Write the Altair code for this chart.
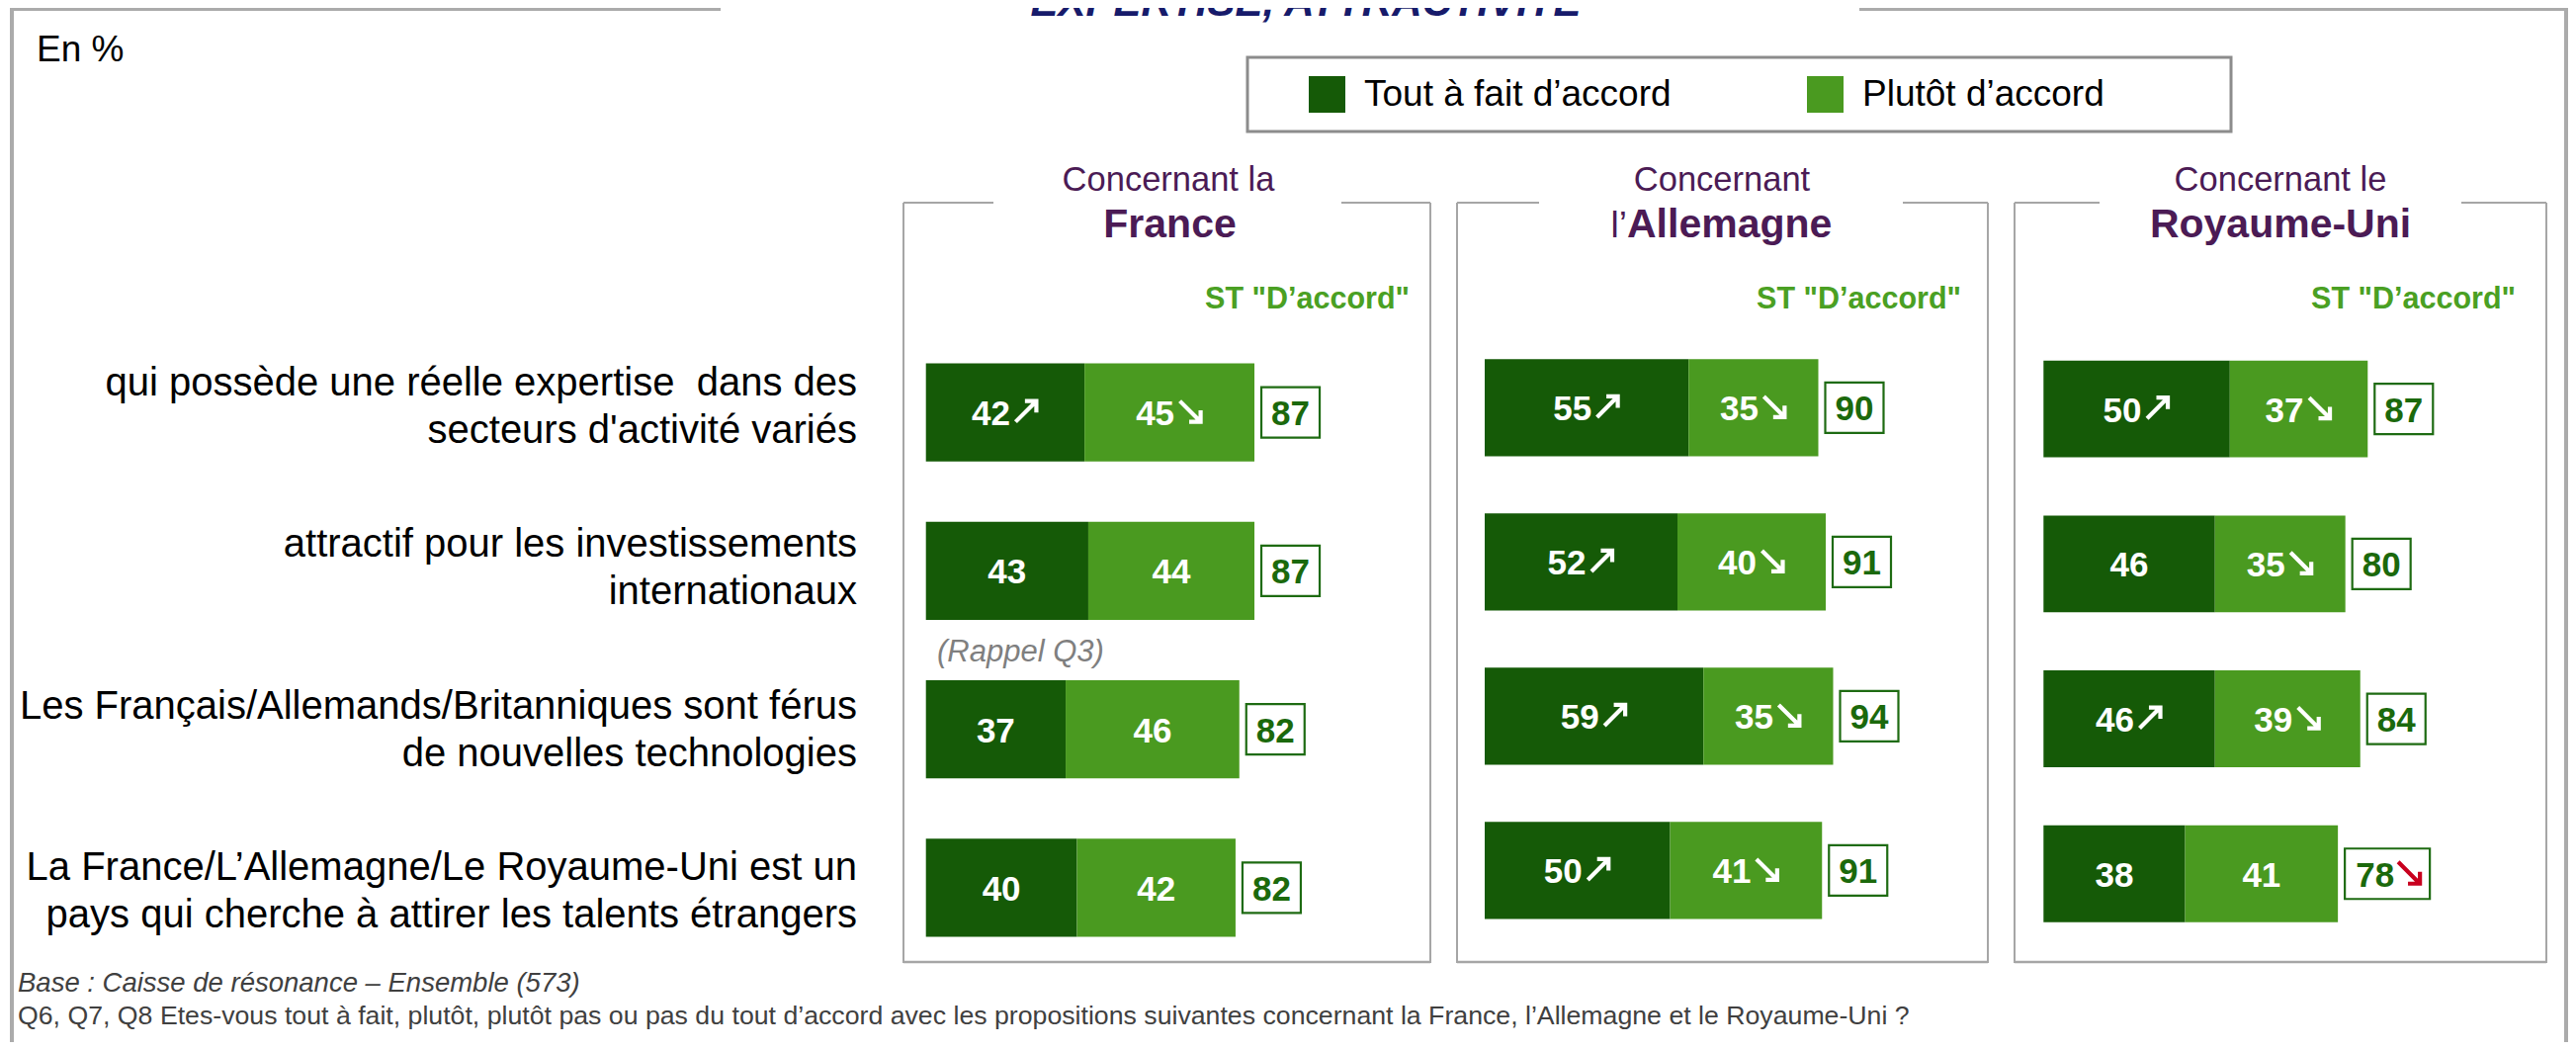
import altair as alt
import pandas as pd

# ---------------- data ----------------
statements = [
    "qui possède une réelle expertise\u00a0 dans des\nsecteurs d'activité variés",
    "attractif pour les investissements\ninternationaux",
    "Les Français/Allemands/Britanniques sont férus\nde nouvelles technologies",
    "La France/L’Allemagne/Le Royaume-Uni est un\npays qui cherche à attirer les talents étrangers",
]
countries = ["France", "Allemagne", "Royaume-Uni"]
series_names = ["Tout à fait d’accord", "Plutôt d’accord"]

tout_a_fait = {"France": [42, 43, 37, 40], "Allemagne": [55, 52, 59, 50], "Royaume-Uni": [50, 46, 46, 38]}
plutot = {"France": [45, 44, 46, 42], "Allemagne": [35, 40, 35, 41], "Royaume-Uni": [37, 35, 39, 41]}
st_accord = {"France": [87, 87, 82, 82], "Allemagne": [90, 91, 94, 91], "Royaume-Uni": [87, 80, 84, 78]}
trend_tout = {"France": ["up", "", "", ""], "Allemagne": ["up", "up", "up", "up"], "Royaume-Uni": ["up", "", "up", ""]}
trend_plutot = {"France": ["down", "", "", ""], "Allemagne": ["down", "down", "down", "down"],
                "Royaume-Uni": ["down", "down", "down", ""]}
trend_st = {"France": ["", "", "", ""], "Allemagne": ["", "", "", ""], "Royaume-Uni": ["", "", "", "down"]}

header_top = ["Concernant la", "Concernant", "Concernant le"]
header_prefix = ["", "l’", ""]
header_bold = ["France", "Allemagne", "Royaume-Uni"]
st_label = 'ST "D’accord"'
title_text = "EXPERTISE, ATTRACTIVITE"
unit_text = "En %"
rappel_text = "(Rappel Q3)"
base_text = "Base : Caisse de résonance – Ensemble (573)"
question_text = ("Q6, Q7, Q8 Etes-vous tout à fait, plutôt, plutôt pas ou pas du tout d’accord avec les "
                 "propositions suivantes concernant la France, l’Allemagne et le Royaume-Uni ?")

rows = []
for c in countries:
    for i, s in enumerate(statements):
        a, b = tout_a_fait[c][i], plutot[c][i]
        rows.append(dict(country=c, statement=s, series=series_names[0], start=0, end=a, value=a,
                         trend=trend_tout[c][i]))
        rows.append(dict(country=c, statement=s, series=series_names[1], start=a, end=a + b, value=b,
                         trend=trend_plutot[c][i]))
bars_df = pd.DataFrame(rows)
tot_df = pd.DataFrame([dict(country=c, statement=s, bar_end=tout_a_fait[c][i] + plutot[c][i],
                            total=st_accord[c][i], trend=trend_st[c][i])
                       for c in countries for i, s in enumerate(statements)])
labels_df = pd.DataFrame({"statement": statements})

# ---------------- style / layout ----------------
FONT = "Liberation Sans"
DARK, LIGHT = "#155a07", "#4a9a20"
BOXG, TOTG, STG = "#1e6b12", "#1b690c", "#4aa023"
PURPLE, NAVY, RED = "#4b1b55", "#171b6b", "#c8001e"
FRAME, OUTER = "#a6a6a6", "#ababab"
UP_PATH = "M -1 1 L 0.9 -0.9 M -0.1 -1 L 1 -1 L 1 0.1"
DOWN_PATH = "M -1 -1 L 0.9 0.9 M 1 -0.1 L 1 1 L -0.1 1"

X_RANGE = {"France": [928.7, 1310.7], "Allemagne": [1494, 1869], "Royaume-Uni": [2059.3, 2436.3]}
Y_BAND = {"France": ([329, 970], 0.38, 0.19),
          "Allemagne": ([326.4, 950.4], 0.37, 0.185),
          "Royaume-Uni": ([327.3, 954.1], 0.375, 0.1875)}

LEGEND = alt.Legend(title=None, orient="none", legendX=1316, legendY=69, direction="horizontal",
                    symbolType="square", symbolSize=1369, symbolStrokeWidth=0, symbolOpacity=1,
                    labelFont=FONT, labelFontSize=37, labelColor="black", labelOffset=19,
                    columnPadding=137, padding=0, labelLimit=800)
COLOR = alt.Color("series:N", scale=alt.Scale(domain=series_names, range=[DARK, LIGHT]), legend=LEGEND)


def one():
    return alt.Chart(alt.Data(values=[{}]))


def hline(x1, x2, y, color=FRAME, w=2):
    return one().mark_rule(color=color, strokeWidth=w).encode(
        x=alt.value(x1), x2=alt.value(x2), y=alt.value(y))


def vline(x, y1, y2, color=FRAME, w=2):
    return one().mark_rule(color=color, strokeWidth=w).encode(
        x=alt.value(x), y=alt.value(y1), y2=alt.value(y2))


def label(text, x, y, size, color="black", align="left", weight="normal", style="normal"):
    return one().mark_text(text=text, font=FONT, fontSize=size, color=color, align=align,
                           baseline="alphabetic", fontWeight=weight, fontStyle=style).encode(
        x=alt.value(x), y=alt.value(y))


def arrow_marks(src, xfield, X, Y, color, offset, size):
    out = []
    for tr, path in (("up", UP_PATH), ("down", DOWN_PATH)):
        out.append(src.transform_filter(alt.datum.trend == tr).mark_point(
            shape=path, filled=False, color=color, stroke=color, strokeWidth=4.2, size=size,
            opacity=1, strokeCap="butt", strokeJoin="miter", xOffset=offset, yOffset=-1).encode(
            x=X(xfield), y=Y))
    return out


def panel(c):
    xs = alt.Scale(domain=[0, 100], range=X_RANGE[c])
    yr, pi, po = Y_BAND[c]
    ys = alt.Scale(type="band", domain=statements, range=yr, paddingInner=pi, paddingOuter=po)

    def X(f):
        return alt.X(f, scale=xs, axis=None)

    Y = alt.Y("statement:N", scale=ys, axis=None)
    b = alt.Chart(bars_df).transform_filter(alt.datum.country == c)
    bars = b.mark_bar().encode(x=X("start:Q"), x2=alt.X2("end"), y=Y, color=COLOR)
    seg = b.transform_calculate(mid="(datum.start + datum.end) / 2")
    txt = dict(font=FONT, fontWeight="bold", fontSize=35, color="white", baseline="middle", dy=2)
    plain = seg.transform_filter("datum.trend == ''").mark_text(align="center", **txt).encode(
        x=X("mid:Q"), y=Y, text="value:Q")
    num = seg.transform_filter("datum.trend != ''").mark_text(align="right", dx=5, **txt).encode(
        x=X("mid:Q"), y=Y, text="value:Q")
    arr = arrow_marks(seg, "mid:Q", X, Y, "white", 21, 441)

    t = alt.Chart(tot_df).transform_filter(alt.datum.country == c)
    tp = t.transform_filter("datum.trend == ''")
    tw = t.transform_filter("datum.trend != ''")
    box = tp.mark_bar(fill="white", stroke=BOXG, strokeWidth=2.2, height=51, xOffset=7, x2Offset=66).encode(
        x=X("bar_end:Q"), x2=alt.X2("bar_end"), y=Y)
    boxtxt = tp.mark_text(font=FONT, fontWeight="bold", fontSize=35, color=TOTG, baseline="middle",
                          align="center", dx=36.5, dy=2).encode(x=X("bar_end:Q"), y=Y, text="total:Q")
    boxw = tw.mark_bar(fill="white", stroke=BOXG, strokeWidth=2.2, height=51, xOffset=7, x2Offset=93).encode(
        x=X("bar_end:Q"), x2=alt.X2("bar_end"), y=Y)
    numw = tw.mark_text(font=FONT, fontWeight="bold", fontSize=35, color=TOTG, baseline="middle",
                        align="right", dx=57, dy=2).encode(x=X("bar_end:Q"), y=Y, text="total:Q")
    arrw = arrow_marks(tw, "bar_end:Q", X, Y, RED, 72, 484)
    return alt.layer(bars, plain, num, *arr, box, boxtxt, boxw, numw, *arrw)


# ---------------- decorations ----------------
decor = [
    hline(4, 721, 1, OUTER, 4), hline(1873, 2590, 1, OUTER, 4),
    vline(4, 0, 1046, OUTER, 4), vline(2588, 0, 1046, OUTER, 4),
    label(title_text, 1313, 8, 42, NAVY, "center", "bold", "italic"),
    label(unit_text, 29, 54, 37),
    one().mark_rect(fillOpacity=0, stroke="#8c8c8c", strokeWidth=3).encode(
        x=alt.value(1254), x2=alt.value(2249), y=alt.value(50), y2=alt.value(125)),
]
frames = [(906, 1439, 997, 1349), (1466, 2003, 1549, 1917), (2030, 2568, 2116, 2482)]
for (l, r, g1, g2) in frames:
    decor += [hline(l, g1, 197), hline(g2, r, 197), vline(l, 197, 966), vline(r, 197, 966),
              hline(l, r, 965, FRAME, 2.5)]
centers = [1174, 1734, 2299]
st_right = [1418, 1976, 2537]
for k in range(3):
    decor.append(label(header_top[k], centers[k], 185, 34.5, PURPLE, "center"))
    decor.append(label(st_label, st_right[k], 304, 30.5, STG, "right", "bold"))
decor.append(label(header_bold[0], 1175.5, 232, 41, PURPLE, "center", "bold"))
decor.append(label(header_prefix[1], 1638, 232, 37, PURPLE, "right"))
decor.append(label(header_bold[1], 1638, 232, 41, PURPLE, "left", "bold"))
decor.append(label(header_bold[2], 2299, 232, 41, PURPLE, "center", "bold"))
decor.append(label(rappel_text, 940, 661, 31, "#7f7f7f", "left", "normal", "italic"))
decor.append(label(base_text, 10, 995, 27.5, "#404040", "left", "normal", "italic"))
decor.append(label(question_text, 10, 1028, 26.7, "#404040"))

row_labels = alt.Chart(labels_df).mark_text(
    font=FONT, fontSize=40, lineHeight=48, lineBreak="\n", align="right", baseline="alphabetic",
    color="black").encode(
    x=alt.value(859),
    y=alt.Y("statement:N", scale=alt.Scale(type="point", domain=statements, range=[392, 882], padding=0),
            axis=None),
    text="statement:N")

chart = alt.layer(*decor, row_labels, *[panel(c) for c in countries]).resolve_scale(
    x="independent", y="independent").properties(
    width=2590, height=1046, autosize=alt.AutoSizeParams(type="none"), padding=0,
    background="white").configure_view(stroke=None)

chart.save("out.html", embed_options={"renderer": "svg", "actions": False})
